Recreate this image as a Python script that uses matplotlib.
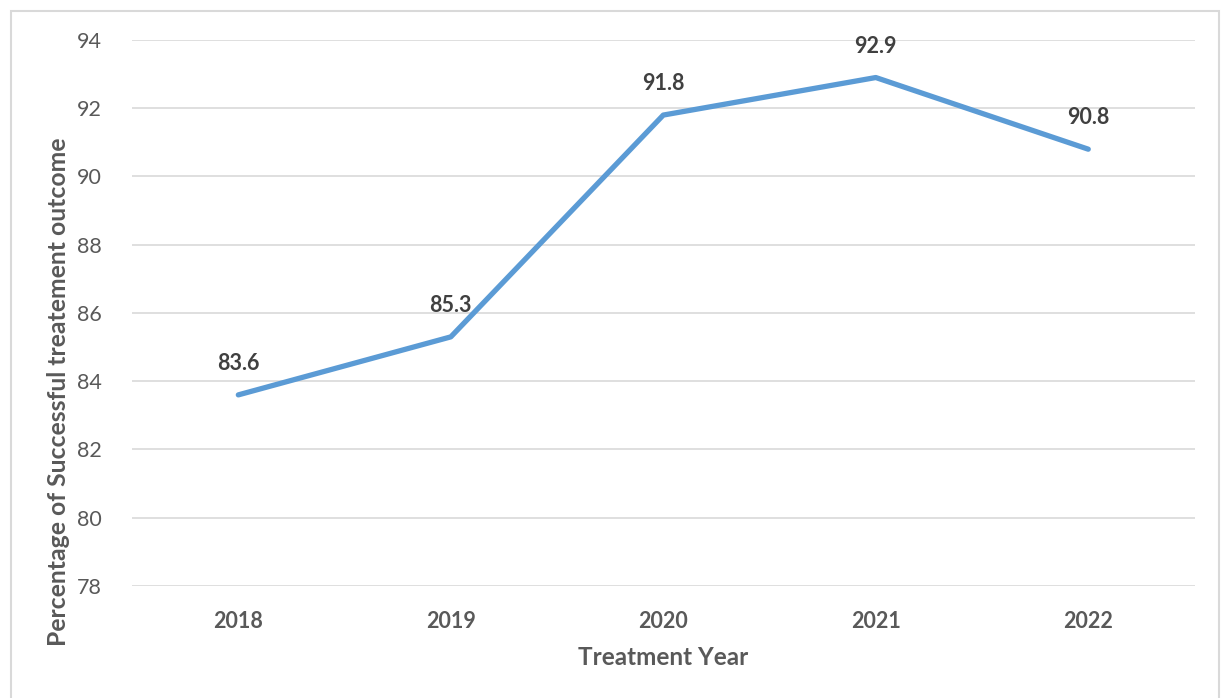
import matplotlib.pyplot as plt
from matplotlib.patches import Rectangle

years = ["2018", "2019", "2020", "2021", "2022"]
success_pct = [83.6, 85.3, 91.8, 92.9, 90.8]
y_ticks = [78, 80, 82, 84, 86, 88, 90, 92, 94]

plt.rcParams['font.family'] = ['Lato', 'DejaVu Sans']

fig = plt.figure(figsize=(12.23, 6.98), dpi=100)
ax = fig.add_axes([0.108, 0.1605, 0.8687, 0.7822])

x = list(range(len(years)))
ax.plot(x, success_pct, color="#5B9BD5", linewidth=3.8, solid_capstyle="round", zorder=3)

for xi, v in zip(x, success_pct):
    ax.annotate(f"{v:.1f}", (xi, v), xytext=(0, 15), textcoords="offset points",
                ha="center", va="bottom", fontsize=15.5, fontweight="bold", color="#404040")

ax.set_xlim(-0.5, len(years) - 0.5)
ax.set_ylim(78, 94)
ax.set_yticks(y_ticks)
ax.set_xticks(x)
ax.set_xticklabels(years, fontweight="bold")
ax.tick_params(axis="y", length=0, pad=22, labelsize=15.5, labelcolor="#595959")
ax.tick_params(axis="x", length=0, pad=18, labelsize=15.5, labelcolor="#595959")
ax.grid(axis="y", color="#D9D9D9", linewidth=1.2)
ax.set_axisbelow(True)
for s in ax.spines.values():
    s.set_visible(False)

ax.set_xlabel("Treatment Year", fontsize=17.5, fontweight="bold", color="#595959", labelpad=10)
ax.set_ylabel("Percentage of Successful treatement outcome", fontsize=17.8, fontweight="bold",
              color="#595959", va="center", ha="center")
ax.yaxis.set_label_coords(-0.0696, 0.355)

fig.patches.append(Rectangle((11 / 1223, -0.05), (1219 - 11) / 1223, 1.05 - 11 / 698,
                             transform=fig.transFigure, fill=False, edgecolor="#D9D9D9",
                             linewidth=1.5))

fig.savefig("out.png", dpi=100)
